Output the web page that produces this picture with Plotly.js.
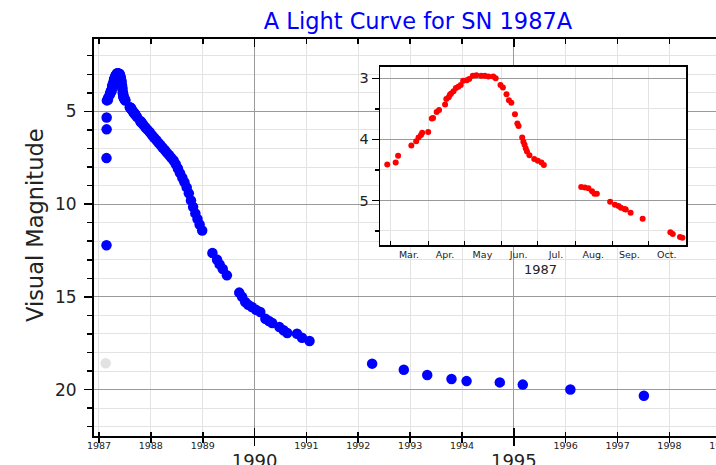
<!DOCTYPE html>
<html><head><meta charset="utf-8">
<script src="https://cdn.plot.ly/plotly-3.0.1.min.js"></script>
<style>html,body{margin:0;padding:0;overflow:hidden;background:#fff}#chart{width:760px;height:480px}</style>
</head><body><div id="chart"></div>
<script>
// ---- data ----
const preDates = ['1987-02-17'];
const preMags = [18.58];

const earlyDates = ['1987-02-23','1987-02-23','1987-02-24','1987-02-24'];
const earlyMags = [12.22, 7.52, 5.97, 5.33];

const insetDates = ['1987-02-26','1987-03-05','1987-03-07','1987-03-18','1987-03-22','1987-03-24','1987-03-26','1987-03-27',
 '1987-04-01','1987-04-04','1987-04-05','1987-04-08','1987-04-10','1987-04-15','1987-04-16','1987-04-18','1987-04-19',
 '1987-04-20','1987-04-22','1987-04-24','1987-04-26','1987-04-28','1987-04-30','1987-05-03','1987-05-05','1987-05-08',
 '1987-05-11','1987-05-15','1987-05-18','1987-05-21','1987-05-25','1987-05-27','1987-05-31','1987-06-02','1987-06-05',
 '1987-06-07','1987-06-09','1987-06-12','1987-06-14','1987-06-15','1987-06-18','1987-06-19','1987-06-20','1987-06-21',
 '1987-06-22','1987-06-24','1987-06-28','1987-07-01','1987-07-04','1987-07-06','1987-08-06','1987-08-09','1987-08-12',
 '1987-08-15','1987-08-17','1987-08-19','1987-08-30','1987-09-03','1987-09-06','1987-09-08','1987-09-11','1987-09-12',
 '1987-09-16','1987-09-26','1987-10-19','1987-10-21','1987-10-27','1987-10-29'];
const insetMags = [4.41,4.38,4.27,4.10,4.03,3.97,3.93,3.89,
 3.88,3.66,3.65,3.55,3.52,3.43,3.34,3.31,3.27,
 3.25,3.21,3.16,3.14,3.11,3.04,3.03,3.01,2.96,
 2.95,2.96,2.96,2.97,2.97,3.00,3.11,3.15,3.26,
 3.36,3.40,3.59,3.74,3.78,3.97,4.04,4.09,4.15,
 4.20,4.26,4.32,4.35,4.38,4.42,4.78,4.79,4.80,
 4.85,4.89,4.89,5.02,5.07,5.09,5.12,5.14,5.15,
 5.20,5.30,5.52,5.55,5.60,5.61];

const lateDates = ['1987-11-10','1987-11-25','1987-12-10','1987-12-25','1988-01-10','1988-01-25','1988-02-10','1988-02-25',
 '1988-03-10','1988-03-25','1988-04-10','1988-04-25','1988-05-10','1988-05-25','1988-06-10','1988-06-25','1988-07-10',
 '1988-07-25','1988-08-10','1988-08-25','1988-09-10','1988-09-25','1988-10-10','1988-10-25','1988-11-10','1988-11-25',
 '1988-12-10','1988-12-28',
 '1989-03-10','1989-04-12','1989-04-30','1989-05-22','1989-06-20',
 '1989-09-15','1989-10-05','1989-10-27','1989-11-17','1989-12-13','1990-01-11','1990-02-10','1990-03-18','1990-04-12',
 '1990-05-05','1990-06-25','1990-07-24','1990-08-19','1990-10-27','1990-12-01','1991-01-23',
 '1992-04-08','1992-11-17','1993-05-01','1993-10-19','1994-02-02','1994-09-24','1995-03-05','1996-02-03','1997-07-05'];
const lateMags = [5.73,5.87,6.00,6.13,6.29,6.42,6.56,6.70,
 6.82,6.96,7.10,7.24,7.37,7.51,7.65,7.85,8.08,
 8.33,8.58,8.82,9.10,9.42,9.80,10.16,10.50,10.80,
 11.10,11.42,
 12.64,13.00,13.25,13.50,13.84,
 14.77,15.00,15.28,15.43,15.55,15.70,15.82,16.18,16.30,
 16.41,16.63,16.80,16.95,16.99,17.20,17.38,
 18.60,18.93,19.21,19.43,19.54,19.61,19.73,19.99,20.33];

const smallYears = ['1987','1988','1989','1991','1992','1993','1994','1996','1997','1998','1999'];
const bigYears = ['1990','1995'];
const monthLabels = ['Mar.','Apr.','May','Jun.','Jul.','Aug.','Sep.','Oct.'];
const monthCenters = ['1987-03-16','1987-04-15','1987-05-16','1987-06-15','1987-07-16','1987-08-16','1987-09-15','1987-10-16'];
const monthStarts = ['1987-03-01','1987-04-01','1987-05-01','1987-06-01','1987-07-01','1987-08-01','1987-09-01','1987-10-01'];
const magTicks = [5,10,15,20];
const insetMagTicks = [3,4,5];
const insetMagMinor = [3.5,4.5,5.5];

// ---- chart ----
const xRange = ['1986-11-27','1999-05-27'];
const smallYearDates = smallYears.map(y => y + '-01-01');
const bigYearDates = bigYears.map(y => y + '-01-01');
const light = '#e3e3e3', dark = '#9a9a9a', ink = '#222';

const traces = [
  {type:'scatter', mode:'markers', x:preDates, y:preMags, xaxis:'x', yaxis:'y',
   marker:{color:'#e2e2e2', size:10.5}, hoverinfo:'skip'},
  {type:'scatter', mode:'markers', x:earlyDates.concat(insetDates, lateDates), y:earlyMags.concat(insetMags, lateMags),
   xaxis:'x', yaxis:'y', marker:{color:'#0000ff', size:10.5}},
  {type:'scatter', mode:'markers', x:[], y:[], xaxis:'x3', yaxis:'y'},
  {type:'scatter', mode:'markers', x:insetDates, y:insetMags, xaxis:'x2', yaxis:'y2',
   marker:{color:'#ff0000', size:6}}
];

const layout = {
  width:760, height:480, margin:{l:94, r:18, t:39, b:44},
  paper_bgcolor:'#fff', plot_bgcolor:'#fff', showlegend:false,
  font:{family:'DejaVu Sans, sans-serif', color:ink},
  title:{text:'A Light Curve for SN 1987A', font:{size:22.5, color:'#0000ff', family:'DejaVu Sans, sans-serif'},
         x:0.5, xref:'paper', xanchor:'center', y:1-21/480, yref:'container', yanchor:'middle'},
  xaxis:{type:'date', range:xRange, tickmode:'array', tickvals:bigYearDates, ticktext:bigYears,
         tickfont:{size:18, color:ink}, ticks:'outside', ticklen:8, tickwidth:1.5, tickcolor:'#000',
         ticklabelstandoff:-1, showgrid:true, gridcolor:dark, gridwidth:1,
         showline:true, linecolor:'#000', linewidth:2, zeroline:false,
         minor:{tickmode:'array', tickvals:smallYearDates, ticks:'outside', ticklen:4.5, tickwidth:1.5,
                tickcolor:'#000', showgrid:true, gridcolor:light, gridwidth:1}},
  xaxis3:{overlaying:'x', anchor:'y', side:'bottom', type:'date', range:xRange, tickmode:'array',
          tickvals:smallYearDates, ticktext:smallYears, tickfont:{size:9.5, color:ink},
          ticks:'inside', ticklen:4.5, tickwidth:1.5, tickcolor:'#000', showgrid:false,
          showline:true, linecolor:'#000', linewidth:2, mirror:'allticks', zeroline:false,
          minor:{tickmode:'array', tickvals:bigYearDates, ticks:'inside', ticklen:8, tickwidth:1.5,
                 tickcolor:'#000', showgrid:false}},
  yaxis:{range:[22.5, 1.1], tickmode:'array', tickvals:magTicks, tickfont:{size:17, color:ink},
         ticks:'outside', ticklen:8, tickwidth:1.5, tickcolor:'#000', ticklabelstandoff:4,
         showgrid:true, gridcolor:dark, gridwidth:1, showline:true, linecolor:'#000', linewidth:2,
         zeroline:false,
         minor:{tick0:0, dtick:1, ticks:'outside', ticklen:5, tickwidth:1.5, tickcolor:'#000',
                showgrid:true, gridcolor:light, gridwidth:1}},
  xaxis2:{domain:[0.4414, 0.9136], anchor:'y2', type:'date', range:['1987-02-20','1987-11-01'],
          tickmode:'array', tickvals:monthCenters, ticktext:monthLabels, tickfont:{size:9.5, color:ink},
          ticks:'', showgrid:false, showline:true, linecolor:'#000', linewidth:1.5, mirror:true, zeroline:false,
          minor:{tickmode:'array', tickvals:monthStarts, ticks:'inside', ticklen:4, tickwidth:1,
                 tickcolor:'#000', showgrid:true, gridcolor:light, gridwidth:1}},
  yaxis2:{domain:[0.4811, 0.9302], anchor:'x2', range:[5.73, 2.81], tickmode:'array', tickvals:insetMagTicks,
          tickfont:{size:14.5, color:ink}, ticks:'outside', ticklen:7, tickwidth:1.5, tickcolor:'#000',
          showgrid:true, gridcolor:dark, gridwidth:1, showline:true, linecolor:'#000', linewidth:1.5,
          mirror:true, zeroline:false,
          minor:{tickmode:'array', tickvals:insetMagMinor, ticks:'outside', ticklen:4, tickwidth:1.5,
                 tickcolor:'#000', showgrid:true, gridcolor:light, gridwidth:1}},
  annotations:[
    {text:'Visual Magnitude', textangle:-90, xref:'paper', yref:'paper', x:(35-94)/648, y:(436-225)/397,
     xanchor:'center', yanchor:'middle', showarrow:false, font:{size:22.5, color:ink}},
    {text:'1987', xref:'paper', yref:'paper', x:(540.7-94)/648, y:(436-269.3)/397,
     xanchor:'center', yanchor:'middle', showarrow:false, font:{size:13, color:ink}}
  ]
};

Plotly.newPlot('chart', traces, layout, {staticPlot:true, displayModeBar:false});
</script>
</body></html>
